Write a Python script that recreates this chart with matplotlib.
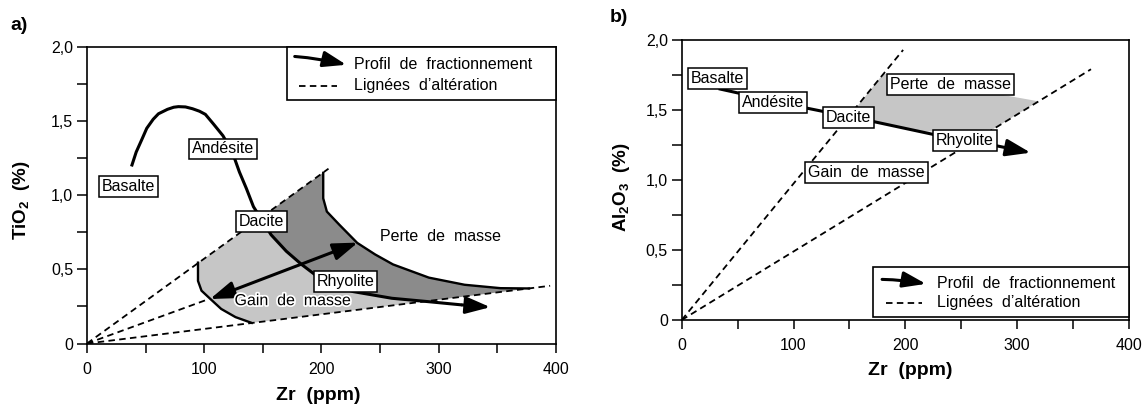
import matplotlib
matplotlib.use('Agg')
import matplotlib.pyplot as plt
import matplotlib.patheffects as pe
from matplotlib.patches import Polygon, Rectangle
from matplotlib.ticker import MultipleLocator

plt.rcParams['font.family'] = ['Liberation Sans', 'DejaVu Sans']
plt.rcParams['mathtext.fontset'] = 'custom'
plt.rcParams['mathtext.rm'] = 'Liberation Sans'
plt.rcParams['mathtext.bf'] = 'Liberation Sans:bold'
plt.rcParams['mathtext.it'] = 'Liberation Sans:italic'

# ---------------- data : panel a (TiO2 vs Zr) ----------------
a_frac_x = [38, 42, 47, 51, 56.5, 61, 68.7, 74, 78, 84, 90, 96, 101, 108, 116, 124, 130, 136,
            142, 150, 157, 170, 183, 194, 205, 216, 227, 260, 290, 320, 344]
a_frac_y = [1.193, 1.29, 1.378, 1.45, 1.511, 1.548, 1.578, 1.592, 1.596, 1.594, 1.582, 1.565,
            1.544, 1.478, 1.40, 1.289, 1.156, 1.044, 0.922, 0.822, 0.733, 0.622, 0.533, 0.467,
            0.42, 0.38, 0.35, 0.305, 0.283, 0.26, 0.245]
a_alt_x = [[0, 206], [0, 104], [0, 395]]
a_alt_y = [[0, 1.178], [0, 0.30], [0, 0.389]]
a_gain_x = [94.7, 148.5, 150, 157, 170, 183, 194, 205, 216, 227, 260, 290,
            140.5, 126.7, 114.5, 105.3, 97.7, 94.7]
a_gain_y = [0.541, 0.845, 0.822, 0.733, 0.622, 0.533, 0.467, 0.42, 0.38, 0.35, 0.305, 0.285,
            0.139, 0.178, 0.233, 0.30, 0.356, 0.422]
a_loss_x = [148.5, 201.5, 201.5, 204.6, 215.3, 230.5, 245.8, 261, 291.6, 322, 352.7, 377,
            290, 260, 227, 216, 205, 194, 183, 170, 157, 150]
a_loss_y = [0.849, 1.152, 0.978, 0.889, 0.80, 0.678, 0.60, 0.533, 0.444, 0.396, 0.373, 0.371,
            0.285, 0.305, 0.35, 0.38, 0.42, 0.467, 0.533, 0.622, 0.733, 0.822]
a_gain_edge_x = [94.7, 94.7, 97.7, 105.3, 114.5, 126.7, 140.5]
a_gain_edge_y = [0.545, 0.422, 0.356, 0.30, 0.233, 0.178, 0.139]
a_loss_edge_x = [201.5, 201.5, 204.6, 215.3, 230.5, 245.8, 261, 291.6, 322, 352.7, 377]
a_loss_edge_y = [1.15, 0.978, 0.889, 0.80, 0.678, 0.60, 0.533, 0.444, 0.396, 0.373, 0.371]
a_mass_arrow_x = [105, 231]
a_mass_arrow_y = [0.30, 0.68]
a_rock_labels = ['Basalte', 'Andésite', 'Dacite', 'Rhyolite']
a_rock_x = [35.1, 116, 148.9, 220.6]
a_rock_y = [1.056, 1.311, 0.824, 0.416]
a_perte_xy = (301.5, 0.722)
a_gain_xy = (175.6, 0.289)

# ---------------- data : panel b (Al2O3 vs Zr) ----------------
b_frac_x = [33, 112, 171, 227, 281, 312]
b_frac_y = [1.652, 1.513, 1.418, 1.322, 1.245, 1.195]
b_alt_x = [[0, 198], [0, 366]]
b_alt_y = [[0, 1.929], [0, 1.791]]
b_loss_x = [150.5, 180.5, 319, 278, 215, 171]
b_loss_y = [1.46, 1.76, 1.562, 1.361, 1.345, 1.418]
b_rock_labels = ['Basalte', 'Andésite', 'Dacite', 'Rhyolite']
b_rock_x = [31.7, 81.3, 149.4, 253.1]
b_rock_y = [1.724, 1.556, 1.445, 1.284]
b_perte_xy = (240.7, 1.681)
b_gain_xy = (165.2, 1.052)

# ---------------- ticks / labels ----------------
x_ticks = [0, 100, 200, 300, 400]
x_ticklabels = ['0', '100', '200', '300', '400']
y_ticks = [0, 0.5, 1.0, 1.5, 2.0]
y_ticklabels = ['0', '0,5', '1,0', '1,5', '2,0']
leg_labels = ['Profil  de  fractionnement', 'Lignées  d\u2019altération']

FS = 11.5
DASH = (0, (3.6, 2.4))
BOX = dict(boxstyle='square,pad=0.18', fc='white', ec='black', lw=1.1)

fig = plt.figure(figsize=(11.44, 4.08), dpi=100)
axA = fig.add_axes([0.0760, 0.158, 0.410, 0.7276])
axB = fig.add_axes([0.5959, 0.2157, 0.391, 0.6863])


def style_axes(ax):
    ax.set_xlim(0, 400)
    ax.set_ylim(0, 2.0)
    ax.set_xticks(x_ticks)
    ax.set_xticklabels(x_ticklabels)
    ax.set_yticks(y_ticks)
    ax.set_yticklabels(y_ticklabels)
    ax.xaxis.set_minor_locator(MultipleLocator(50))
    ax.yaxis.set_minor_locator(MultipleLocator(0.25))
    ax.tick_params(axis='x', which='both', direction='out', length=6.5, width=1.1,
                   labelsize=FS, pad=6.5)
    ax.tick_params(axis='y', which='both', direction='out', length=7, width=1.1,
                   labelsize=FS, pad=3)
    for s in ax.spines.values():
        s.set_linewidth(1.2)


def arrow(ax, p0, p1, style='-|>', lw=2.2, coords='data', rad=0.0):
    ax.annotate('', xy=p1, xytext=p0, xycoords=coords, textcoords=coords,
                arrowprops=dict(arrowstyle=style + ',head_length=0.75,head_width=0.26',
                                mutation_scale=20, lw=lw, color='black',
                                shrinkA=0, shrinkB=0,
                                connectionstyle='arc3,rad=%s' % rad),
                zorder=5)


def legend_box(ax, x0, y0, y1, ytxt1, ytxt2, arr0, arr1, dash_x):
    ax.add_patch(Rectangle((x0, y0), 1.0 - x0, y1 - y0, transform=ax.transAxes,
                           fc='white', ec='black', lw=1.2, zorder=7, clip_on=False))
    ann = ax.annotate('', xy=arr1, xytext=arr0, xycoords='axes fraction',
                      arrowprops=dict(arrowstyle='-|>,head_length=0.7,head_width=0.24',
                                      mutation_scale=20, lw=2.2, color='black',
                                      shrinkA=0, shrinkB=0,
                                      connectionstyle='arc3,rad=-0.04'))
    ann.set_zorder(8)
    ax.plot(dash_x, [ytxt2, ytxt2], transform=ax.transAxes, color='black', lw=1.3,
            linestyle=DASH, zorder=8, clip_on=False)
    ax.text(0.570, ytxt1, leg_labels[0], transform=ax.transAxes, fontsize=FS,
            va='center', ha='left', zorder=8)
    ax.text(0.570, ytxt2, leg_labels[1], transform=ax.transAxes, fontsize=FS,
            va='center', ha='left', zorder=8)


# ---------------- panel a ----------------
style_axes(axA)
axA.add_patch(Polygon(list(zip(a_gain_x, a_gain_y)), closed=True, fc='#c6c6c6',
                      ec='none', zorder=1))
axA.add_patch(Polygon(list(zip(a_loss_x, a_loss_y)), closed=True, fc='#8b8b8b',
                      ec='none', zorder=1))
for xs, ys in zip(a_alt_x, a_alt_y):
    axA.plot(xs, ys, color='black', lw=1.3, linestyle=DASH, zorder=2)
axA.plot(a_gain_edge_x, a_gain_edge_y, color='black', lw=1.7, zorder=3)
axA.plot(a_loss_edge_x, a_loss_edge_y, color='black', lw=1.7, zorder=3)
axA.plot(a_frac_x[:-1], a_frac_y[:-1], color='black', lw=2.2, zorder=4,
         solid_capstyle='butt', solid_joinstyle='round')
arrow(axA, (a_frac_x[-2], a_frac_y[-2]), (a_frac_x[-1], a_frac_y[-1]))
arrow(axA, (a_mass_arrow_x[0], a_mass_arrow_y[0]), (a_mass_arrow_x[1], a_mass_arrow_y[1]),
      style='<|-|>', lw=2.2)
for lab, x, y in zip(a_rock_labels, a_rock_x, a_rock_y):
    axA.text(x, y, lab, fontsize=FS, ha='center', va='center', bbox=BOX, zorder=6)
axA.text(*a_perte_xy, 'Perte  de  masse', fontsize=FS, ha='center', va='center', zorder=6)
axA.text(*a_gain_xy, 'Gain  de  masse', fontsize=FS, ha='center', va='center', zorder=6,
         path_effects=[pe.withStroke(linewidth=2.5, foreground='white')])
legend_box(axA, 0.4275, 0.822, 1.0, 0.939, 0.869, (0.443, 0.967), (0.553, 0.939),
           [0.453, 0.534])
axA.set_xlabel('Zr  (ppm)', fontsize=14, fontweight='bold', va='center')
axA.xaxis.set_label_coords(0.494, -0.1735)
axA.set_ylabel(r'$\mathbf{TiO_2}$  (%)', fontsize=13.5, fontweight='bold', va='center')
axA.yaxis.set_label_coords(-0.139, 0.483)
fig.text(19 / 1144, 1 - 25 / 408, 'a)', fontsize=14, fontweight='bold',
         ha='center', va='center')

# ---------------- panel b ----------------
style_axes(axB)
axB.add_patch(Polygon(list(zip(b_loss_x, b_loss_y)), closed=True, fc='#c6c6c6',
                      ec='none', zorder=1))
for xs, ys in zip(b_alt_x, b_alt_y):
    axB.plot(xs, ys, color='black', lw=1.3, linestyle=DASH, zorder=2)
axB.plot(b_frac_x[:-1], b_frac_y[:-1], color='black', lw=2.2, zorder=4,
         solid_capstyle='butt')
arrow(axB, (b_frac_x[-2], b_frac_y[-2]), (b_frac_x[-1], b_frac_y[-1]))
for lab, x, y in zip(b_rock_labels, b_rock_x, b_rock_y):
    axB.text(x, y, lab, fontsize=FS, ha='center', va='center', bbox=BOX, zorder=6)
axB.text(*b_perte_xy, 'Perte  de  masse', fontsize=FS, ha='center', va='center',
         bbox=BOX, zorder=6)
axB.text(*b_gain_xy, 'Gain  de  masse', fontsize=FS, ha='center', va='center',
         bbox=BOX, zorder=6)
legend_box(axB, 0.427, 0.0094, 0.188, 0.129, 0.062, (0.448, 0.145), (0.546, 0.129),
           [0.456, 0.538])
axB.set_xlabel('Zr  (ppm)', fontsize=14, fontweight='bold', va='center')
axB.xaxis.set_label_coords(0.51, -0.1786)
axB.set_ylabel(r'$\mathbf{Al_2O_3}$  (%)', fontsize=13.5, fontweight='bold', va='center')
axB.yaxis.set_label_coords(-0.1346, 0.476)
fig.text(619 / 1144, 1 - 17 / 408, 'b)', fontsize=14, fontweight='bold',
         ha='center', va='center')

fig.savefig('out.png', dpi=100)
